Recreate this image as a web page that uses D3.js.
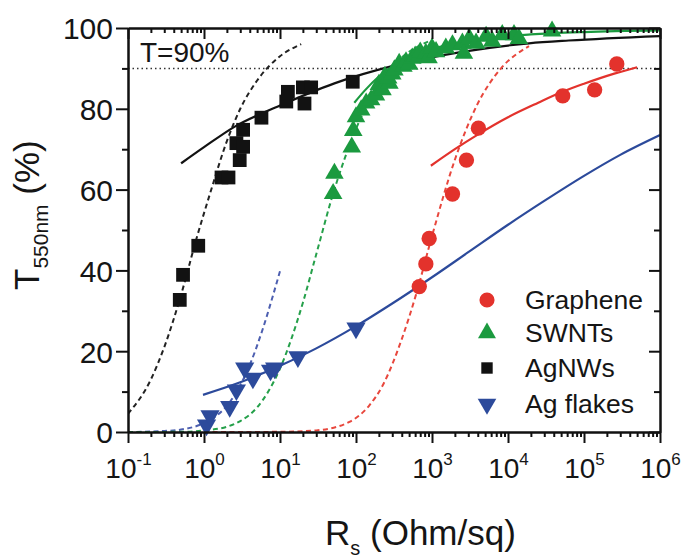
<!DOCTYPE html>
<html><head><meta charset="utf-8">
<script src="https://cdn.jsdelivr.net/npm/d3@7"></script>
<style>
body{margin:0;background:#fff}
svg{display:block}
text{font-family:"Liberation Sans",Arial,Helvetica,sans-serif;fill:#151515}
</style>
</head><body><svg id="c" width="692" height="560"></svg>
<script>
// ---------- data (R_s in Ohm/sq, T in %) ----------
const xDecades = [-1,0,1,2,3,4,5,6];
const yMajor = [0,20,40,60,80,100];
const yMinor = [10,30,50,70,90];
const seriesNames = ["Graphene","SWNTs","AgNWs","Ag flakes"];
const seriesColors = ["#e3322c","#1b9a3f","#121212","#2c4a9b"];
const dashColors = ["#e8473d","#25a04a","#222222","#4d5fb0"];

const graphene = [[680,36],[830,41.6],[918,47.9],[1860,58.9],[2840,67.3],[4080,75.2],[52500,83.2],[138000,84.7],[270000,91.1]];
const swnt = [[52,64],[50,59],[88,70.5],[92,74.6],[100,78],[117,79.7],[136,81.4],[158,82.2],[183,83.4],[200,86],[223,84.7],[240,88],[275,86.3],[265,87.6],[300,88.6],[320,89.6],[370,91.2],[420,90.5],[455,91.6],[500,91],[550,92.5],[600,93],[675,92.9],[700,94],[830,93.7],[900,92.6],[1000,95],[1130,94.1],[1520,95],[1860,95.8],[2510,96.2],[2630,93.7],[3100,97.4],[3800,96.2],[5150,97.9],[6200,96.7],[8400,98.3],[12000,98.3],[13900,97.4],[38000,99.2]];
const agnw = [[0.48,32.7],[0.53,38.9],[0.84,46.1],[1.7,63],[2.1,63],[2.67,71.5],[3.27,70.6],[2.95,67.3],[3.27,74.8],[5.7,77.8],[12.1,81.8],[12.7,84.2],[20,85.3],[25.7,85.3],[21,81.3],[90.6,86.7]];
const agflakes = [[1.08,1.7],[1.2,4],[2.18,6.3],[2.67,10.4],[3.43,15.8],[4.4,13.3],[7.5,15.3],[8.5,15.8],[17.2,18.6],[100,25.7]];

// fitted curves
const grapheneFit = [[966,65.9],[2000,70],[4000,73.6],[10000,77.9],[25000,81.5],[52000,84.2],[1e5,86.2],[2.5e5,88.7],[5e5,90.3]];
const grapheneBulk = [[1,0],[3,0],[10,0.05],[30,0.4],[82,2.5],[150,6.6],[224,11.5],[400,23],[616,34],[1000,48.5],[2000,67.4],[4000,81.3],[8000,89.9],[18900,95.5]];
const swntFit = [[95,81.5],[130,84.5],[200,88],[400,91.8],[800,94.2],[2000,96.2],[5000,97.4],[20000,98.4],[1e5,99],[1e6,99.4]];
const swntBulk = [[0.1,0],[0.5,0.05],[1,0.4],[2,1.3],[3,2.7],[5,6.1],[10,15.7],[20,32],[30,44],[50,59],[100,75],[200,86.3],[400,92.7],[900,96.7]];
const agnwFit = [[0.5,66.5],[1,70.5],[2.54,75.6],[10,80.8],[52,86.3],[336,90.8],[2490,94.1],[18900,96.2],[63000,96.9],[1e6,98]];
const agnwBulk = [[0.1,4.5],[0.2,13],[0.3,21],[0.5,34],[0.8,48],[1.2,59],[2,72],[3,80],[5,87],[10,93],[19,96]];
const flakesFit = [[0.97,9.2],[3,12.3],[10,16.4],[30,20.7],[100,26.2],[300,31.8],[1000,38.3],[3000,44.5],[1e4,51.3],[3e4,57.2],[1e5,63.4],[3e5,68.6],[1e6,73.5]];
const flakesBulk = [[0.1,0],[0.3,0.25],[0.5,0.6],[1,2.2],[1.5,4.2],[2,6.5],[3,11.6],[4,16.6],[6,25.8],[8,33.5],[10,39.8]];
const refLine = 90;

// ---------- scales ----------
const svg = d3.select("#c");
const L=128, R=660, T=28, B=432;
const x = d3.scaleLog().domain([0.1,1e6]).range([L,R]);
const y = d3.scaleLinear().domain([0,100]).range([B,T]);

svg.append("defs").append("clipPath").attr("id","clip")
  .append("rect").attr("x",L).attr("y",T-6).attr("width",R-L).attr("height",B-T+6);

const plot = svg.append("g").attr("clip-path","url(#clip)");

// reference line T=90%
plot.append("line").attr("x1",L).attr("x2",R).attr("y1",y(refLine)).attr("y2",y(refLine))
  .attr("stroke","#333").attr("stroke-width",1.5).attr("stroke-dasharray","1.5,3");

const line = d3.line().x(d=>x(d[0])).y(d=>y(d[1])).curve(d3.curveMonotoneX);

const bulks = [grapheneBulk, swntBulk, agnwBulk, flakesBulk];
const fits = [grapheneFit, swntFit, agnwFit, flakesFit];
[3,0,1,2].forEach(i=>{
  plot.append("path").attr("d",line(bulks[i])).attr("fill","none")
    .attr("stroke",dashColors[i]).attr("stroke-width",2).attr("stroke-dasharray","5,3.5");
});
[3,0,2,1].forEach(i=>{
  plot.append("path").attr("d",line(fits[i])).attr("fill","none")
    .attr("stroke",seriesColors[i]).attr("stroke-width",2.2);
});

// markers
const sym = {
  circle: d3.symbol().type(d3.symbolCircle).size(185),
  up: d3.symbol().type(d3.symbolTriangle).size(150),
  square: d3.symbol().type(d3.symbolSquare).size(190),
  down: d3.symbol().type(d3.symbolTriangle).size(160)
};
function drawPts(data, gen, color, rot){
  svg.append("g").selectAll("path").data(data).join("path")
    .attr("d",gen())
    .attr("transform",d=>`translate(${x(d[0])},${y(d[1])})`+(rot?" rotate(180)":""))
    .attr("fill",color);
}
drawPts(agflakes, sym.down, seriesColors[3], true);
drawPts(agnw, sym.square, seriesColors[2], false);
drawPts(swnt, sym.up, seriesColors[1], false);
drawPts(graphene, sym.circle, seriesColors[0], false);

// ---------- axes ----------
const minorX = [];
xDecades.slice(0,-1).forEach(e=>{ for(let k=2;k<=9;k++) minorX.push(k*Math.pow(10,e)); });
const majorX = xDecades.map(e=>Math.pow(10,e));

function styleAxis(g){
  g.select(".domain").attr("stroke","#111").attr("stroke-width",2);
  g.selectAll(".tick line").attr("stroke","#111").attr("stroke-width",2);
}
// bottom
const gxm = svg.append("g").attr("transform",`translate(0,${B})`)
  .call(d3.axisBottom(x).tickValues(minorX).tickSize(5).tickSizeOuter(0).tickFormat(""));
styleAxis(gxm);
const gx = svg.append("g").attr("transform",`translate(0,${B})`)
  .call(d3.axisBottom(x).tickValues(majorX).tickSize(11).tickSizeOuter(0).tickFormat(()=>"10"));
styleAxis(gx);
gx.selectAll(".tick text").each(function(d,i){
  const t = d3.select(this);
  t.text(null).attr("y",46).attr("dy",0).attr("font-size",28).attr("fill","#151515").attr("font-family",null);
  t.append("tspan").text("10");
  t.append("tspan").attr("dy",-13).attr("font-size",17).text(String(xDecades[i]));
});
// top
const gtm = svg.append("g").attr("transform",`translate(0,${T})`)
  .call(d3.axisTop(x).tickValues(minorX).tickSize(-5).tickSizeOuter(0).tickFormat(""));
styleAxis(gtm);
const gt = svg.append("g").attr("transform",`translate(0,${T})`)
  .call(d3.axisTop(x).tickValues(majorX).tickSize(-11).tickSizeOuter(0).tickFormat(""));
styleAxis(gt);
// left
const gym = svg.append("g").attr("transform",`translate(${L},0)`)
  .call(d3.axisLeft(y).tickValues(yMinor).tickSize(6).tickSizeOuter(0).tickFormat(""));
styleAxis(gym);
const gy = svg.append("g").attr("transform",`translate(${L},0)`)
  .call(d3.axisLeft(y).tickValues(yMajor).tickSize(12).tickSizeOuter(0).tickPadding(3));
styleAxis(gy);
gy.selectAll(".tick text").attr("font-size",30).attr("fill","#151515").attr("font-family",null).attr("dy","0.36em");
// right
const grm = svg.append("g").attr("transform",`translate(${R},0)`)
  .call(d3.axisRight(y).tickValues(yMinor).tickSize(-6).tickSizeOuter(0).tickFormat(""));
styleAxis(grm);
const gr = svg.append("g").attr("transform",`translate(${R},0)`)
  .call(d3.axisRight(y).tickValues(yMajor).tickSize(-11).tickSizeOuter(0).tickFormat(""));
styleAxis(gr);

// ---------- texts ----------
svg.append("text").attr("x",140).attr("y",62).attr("font-size",28).text("T=90%");

const xt = svg.append("text").attr("x",325).attr("y",545).attr("font-size",35);
xt.append("tspan").text("R");
xt.append("tspan").attr("font-size",20).attr("dy",10).text("s");
xt.append("tspan").attr("dy",-10).text(" (Ohm/sq)");

const yt = svg.append("text").attr("transform","translate(39,290) rotate(-90)").attr("font-size",35);
yt.append("tspan").text("T");
yt.append("tspan").attr("font-size",21).attr("dy",9).text("550nm");
yt.append("tspan").attr("dy",-9).text(" (%)");

// ---------- legend ----------
const legY = [300,333,368,404];
const legSize = [[d3.symbolCircle,180],[d3.symbolTriangle,140],[d3.symbolSquare,130],[d3.symbolTriangle,150]];
seriesNames.forEach((n,i)=>{
  svg.append("path").attr("d",d3.symbol().type(legSize[i][0]).size(legSize[i][1])())
    .attr("transform",`translate(487,${legY[i]})`+(i===3?" rotate(180)":""))
    .attr("fill",seriesColors[i]);
  svg.append("text").attr("x",525).attr("y",legY[i]+9).attr("font-size",26.5).text(n);
});
</script>
</body></html>
